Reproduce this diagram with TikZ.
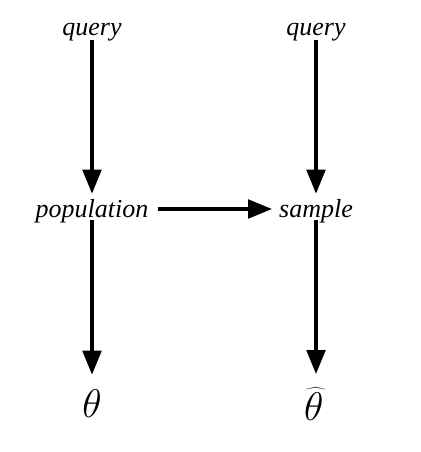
\RequirePackage{fix-cm}
\documentclass[tikz,border=0pt]{standalone}
\usepackage{fontspec}
\setmainfont{Liberation Serif}
\usetikzlibrary{arrows.meta}

\tikzset{every picture/.style={line width=0.75pt}}
\tikzset{
  word/.style={inner sep=0.75pt, font=\fontsize{19.5}{23}\selectfont\itshape},
  est/.style={inner sep=0.75pt, font=\fontsize{30}{34}\selectfont},
  flow/.style={line width=2.5pt, -{Triangle[length=18pt,width=14pt]}},
}

\begin{document}
\begin{tikzpicture}[x=0.75pt,y=0.75pt,yscale=-1,xscale=1]
\useasboundingbox (0,0) rectangle (420,452);

% Text Node
\node [word] (qpop) at (92,32) {query};
% Text Node
\node [word] (qsamp) at (316,32) {query};
% Text Node
\node [word] (pop) at (92,211) {population};
% Text Node
\node [word] (samp) at (316,211) {sample};
% Text Node
\node [est] (th) at (92,404) {$\theta$};
% Text Node
\node [est] (thhat) at (316,404) {$\widehat{\theta\mkern2mu}$};

%Straight Lines
\draw [flow, shorten <=6pt, shorten >=13pt] (qpop.center) -- (pop.center) ;
%Straight Lines
\draw [flow, shorten <=6pt, shorten >=13pt] (qsamp.center) -- (samp.center) ;
%Straight Lines
\draw [flow, shorten <=49.5pt, shorten >=33pt] ([yshift=-1.5pt]pop.center) -- ([yshift=-1.5pt]samp.center) ;
%Straight Lines
\draw [flow, shorten <=7pt, shorten >=22pt] (pop.center) -- (th.center) ;
%Straight Lines
\draw [flow, shorten <=7pt, shorten >=22.5pt] (samp.center) -- (thhat.center) ;

\end{tikzpicture}
\end{document}
